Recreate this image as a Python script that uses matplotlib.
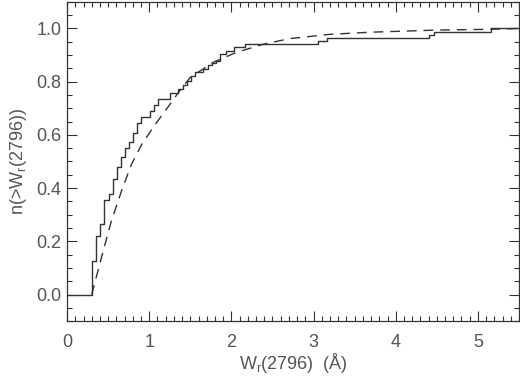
import numpy as np
import matplotlib
matplotlib.use('Agg')
import matplotlib.pyplot as plt
from matplotlib.ticker import MultipleLocator

# step edges of the observed distribution (W, cumulative fraction)
w_obs = [0, 0.30, 0.353, 0.405, 0.454, 0.507, 0.556, 0.604, 0.653, 0.70, 0.75,
         0.80, 0.852, 0.905, 1.008, 1.062, 1.103, 1.25, 1.355, 1.407, 1.456,
         1.509, 1.557, 1.658, 1.72, 1.76, 1.81, 1.86, 1.94, 2.03, 2.165,
         3.06, 3.16, 4.40, 4.46, 5.16, 5.5]
n_obs = [0, 0.125, 0.219, 0.264, 0.355, 0.378, 0.435, 0.481, 0.516, 0.55, 0.575,
         0.607, 0.643, 0.668, 0.691, 0.712, 0.734, 0.759, 0.771, 0.786, 0.801,
         0.821, 0.836, 0.848, 0.861, 0.870, 0.879, 0.904, 0.917, 0.929, 0.940,
         0.954, 0.964, 0.976, 0.986, 1.0, 1.0]

# model curve
w_mod = [0.30, 0.418, 0.539, 0.661, 0.782, 0.904, 1.067, 1.229, 1.39, 1.496,
         1.78, 2.06, 2.39, 2.71, 3.20, 3.69, 4.50, 5.15, 5.5]
n_mod = [0.0, 0.139, 0.276, 0.388, 0.488, 0.562, 0.637, 0.705, 0.774, 0.815,
         0.873, 0.910, 0.941, 0.962, 0.978, 0.986, 0.994, 0.997, 1.0]

col = '#333333'
tcol = '#555555'
plt.rcParams['font.family'] = ['Liberation Sans', 'DejaVu Sans']
plt.rcParams['mathtext.fontset'] = 'custom'
plt.rcParams['mathtext.rm'] = 'Liberation Sans'
plt.rcParams['mathtext.default'] = 'regular'

fig = plt.figure(figsize=(5.2, 3.76), dpi=100)
ax = fig.add_axes([0.129, 0.146, 0.869, 0.849])

ax.step(w_obs, n_obs, where='post', color=col, linewidth=1.0)
ax.plot(w_mod, n_mod, color=col, linewidth=1.0, linestyle=(0, (7, 5)))

ax.set_xlim(0, 5.5)
ax.set_ylim(-0.1, 1.1)
ax.xaxis.set_major_locator(MultipleLocator(1))
ax.xaxis.set_minor_locator(MultipleLocator(0.1))
ax.yaxis.set_major_locator(MultipleLocator(0.2))
ax.yaxis.set_minor_locator(MultipleLocator(0.05))
ax.yaxis.set_major_formatter(plt.FormatStrFormatter('%.1f'))

ax.tick_params(which='both', direction='in', top=True, right=True,
               color=col, labelcolor=tcol, labelsize=13, width=0.8)
ax.tick_params(which='major', length=7)
ax.tick_params(which='minor', length=3.5)
ax.tick_params(axis='x', which='major', pad=9)
ax.tick_params(axis='y', which='major', pad=4)
for s in ax.spines.values():
    s.set_color(col)
    s.set_linewidth(0.9)

ax.set_xlabel('W$_r$(2796)  (Å)', fontsize=13, color=tcol, labelpad=0)
ax.set_ylabel('n(>W$_r$(2796))', fontsize=13, color=tcol, labelpad=5)

fig.savefig('out.png', dpi=100)
